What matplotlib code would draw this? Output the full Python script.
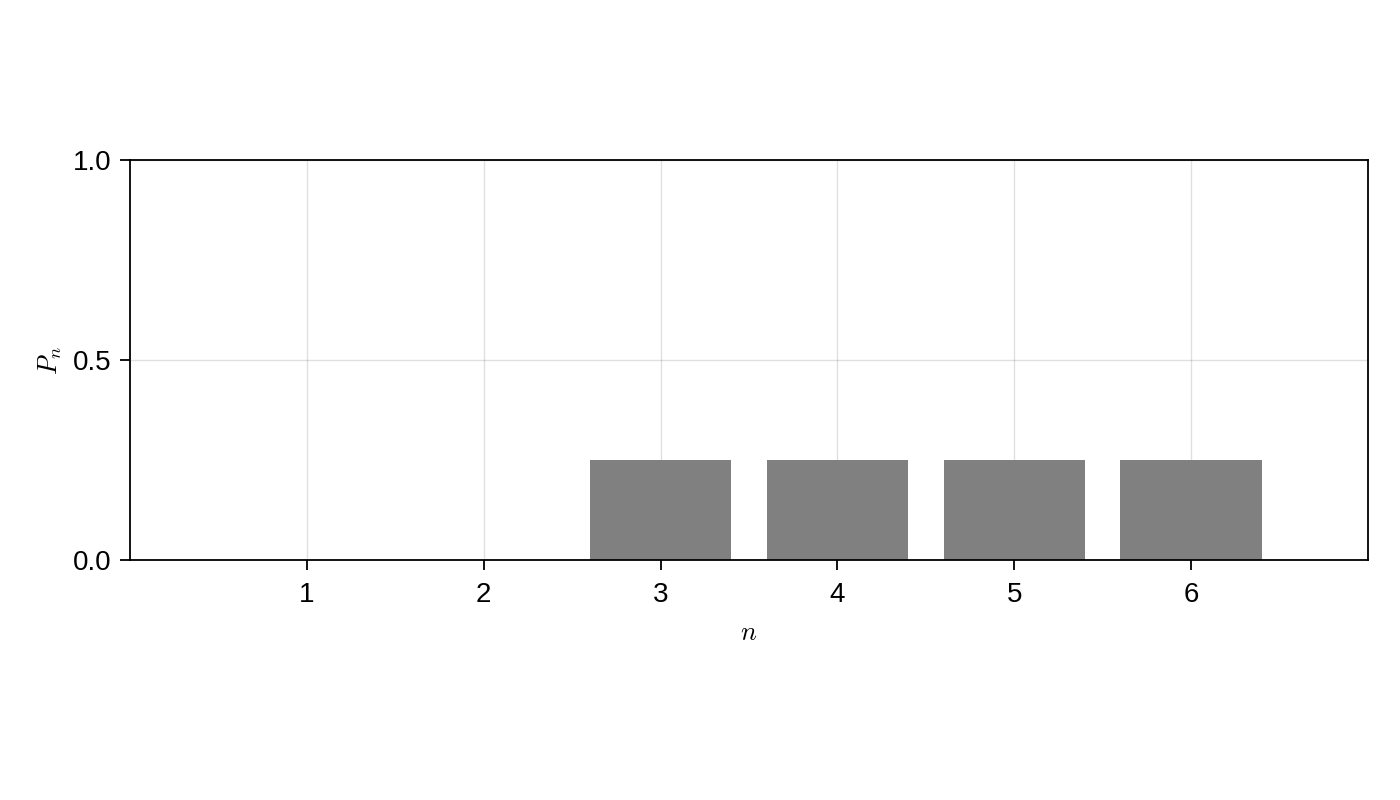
import matplotlib
matplotlib.use("Agg")
import matplotlib.pyplot as plt

# =========================
# DATA
# =========================
n_values = [1, 2, 3, 4, 5, 6]
probabilities = [0.0, 0.0, 0.25, 0.25, 0.25, 0.25]
x_ticks = [1, 2, 3, 4, 5, 6]
y_ticks = [0.0, 0.5, 1.0]

plt.rcParams["font.family"] = ["Liberation Sans", "DejaVu Sans"]
plt.rcParams["mathtext.fontset"] = "cm"

# =========================
# FIGURE
# =========================
fig = plt.figure(figsize=(14, 8), dpi=100)
ax = fig.add_axes([130 / 1400, 0.3, (1368 - 130) / 1400, 0.5])

ax.bar(n_values, probabilities, width=0.8, color="#808080", zorder=2)

ax.set_xlim(0, 7)
ax.set_ylim(0, 1)
ax.set_xticks(x_ticks)
ax.set_yticks(y_ticks)
ax.set_yticklabels([f"{v:.1f}" for v in y_ticks])

ax.grid(True, color="black", alpha=0.12, linewidth=1.0, zorder=0)
ax.set_axisbelow(True)

for spine in ax.spines.values():
    spine.set_linewidth(1.3)

ax.tick_params(axis="both", direction="out", length=7, width=1.3,
               labelsize=20)
ax.tick_params(axis="x", pad=9)
ax.tick_params(axis="y", pad=6)

ax.set_xlabel("$n$", fontsize=19, labelpad=9)
ax.set_ylabel("$P_n$", fontsize=19, labelpad=7)

fig.savefig("out.png", dpi=100)
